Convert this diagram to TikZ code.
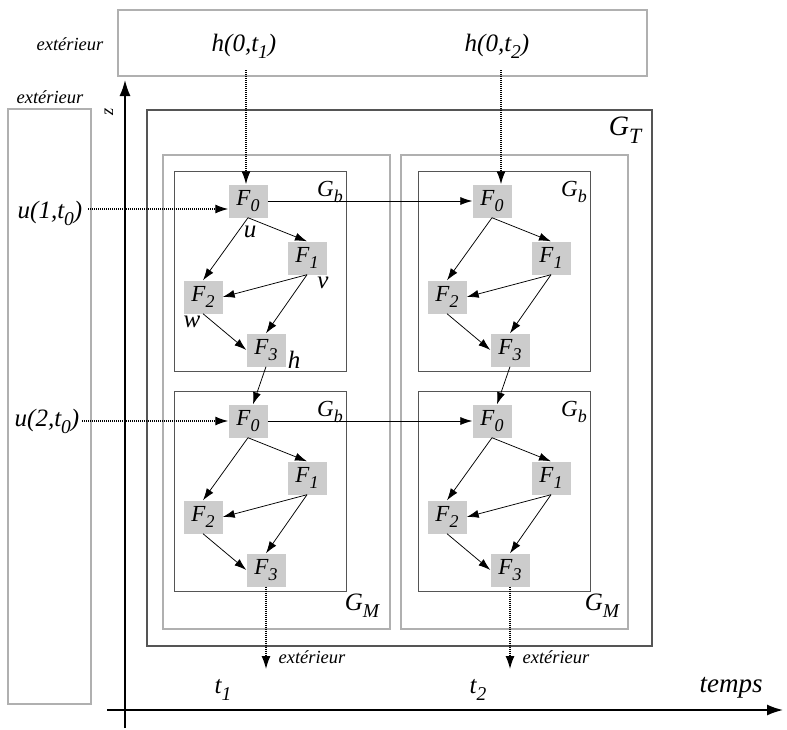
\documentclass[tikz,border=0pt]{standalone}
\usepackage{fontspec}
\setmainfont{Liberation Serif}
\usetikzlibrary{arrows.meta,calc}
\definecolor{boxfill}{HTML}{CCCCCC}
\definecolor{lightframe}{HTML}{B0B0B0}
\definecolor{darkframe}{HTML}{555555}
\newcommand{\sbs}[1]{\raisebox{-0.28em}{\scalebox{0.78}{#1}}}
\tikzset{
  fbox/.style={fill=boxfill, minimum width=39pt, minimum height=33pt, inner sep=0pt,
    font=\fontsize{23}{23}\selectfont\itshape},
  gblbl/.style={font=\fontsize{23}{23}\selectfont\itshape, inner sep=0pt},
  lbl/.style={font=\fontsize{25}{25}\selectfont\itshape, inner sep=0pt},
  biglbl/.style={font=\fontsize{28}{28}\selectfont\itshape, inner sep=0pt},
  smalllbl/.style={font=\fontsize{18.5}{18.5}\selectfont\itshape, inner sep=0pt},
  arr/.style={-{Latex[length=12pt,width=8pt]}, line width=0.75pt},
  dotarr/.style={dash pattern=on 1pt off 1pt, line width=1.3pt, -{Latex[length=13pt,width=9pt]}},
  lightbox/.style={draw=lightframe, line width=1.5pt},
  gtbox/.style={draw=darkframe, line width=1.5pt},
  gbbox/.style={draw=darkframe, line width=1pt},
  axis/.style={line width=1.6pt, -{Latex[length=16pt,width=11pt]}},
}
\newcommand{\fblock}[3]{%
  \node[fbox] (#1F0) at (248+#2,201+#3) {F\sbs{0}};
  \node[fbox] (#1F1) at (307+#2,258+#3) {F\sbs{1}};
  \node[fbox] (#1F2) at (203+#2,297+#3) {F\sbs{2}};
  \node[fbox] (#1F3) at (266+#2,350+#3) {F\sbs{3}};
  \draw[arr] (#1F0.south) -- (#1F1.north);
  \draw[arr] (#1F0.south) -- (#1F2.north);
  \draw[arr] (#1F1.south) -- (#1F2.east);
  \draw[arr] (#1F1.south) -- (#1F3.north);
  \draw[arr] (#1F2.south) -- (#1F3.west);
  \draw[gbbox] (174+#2,171+#3) rectangle (346+#2,371+#3);
  \node[gblbl] (#1Gb) at (330+#2,192+#3) {G\sbs{b}};
}
\begin{document}
\begin{tikzpicture}[x=1pt,y=-1pt]
\useasboundingbox (0,0) rectangle (787,729);
% outer boxes
\draw[lightbox] (118,10) rectangle (647,76);
\draw[lightbox] (8,109) rectangle (91,704);
\draw[gtbox] (147,110) rectangle (652,646);
\draw[lightbox] (163,155) rectangle (390,629);
\draw[lightbox] (401,155) rectangle (628,629);
\node[biglbl] (GT) at (625,130) {G\sbs{T}};
\node[lbl] (GM1) at (362,606) {G\sbs{M}};
\node[lbl] (GM2) at (602,606) {G\sbs{M}};
% axes
\coordinate (zb) at (125,728);
\coordinate (zt) at (125,80);
\coordinate (tl) at (107,710);
\coordinate (tr) at (783,710);
\draw[axis] (zb) -- (zt);
\draw[axis] (tl) -- (tr);
\node[smalllbl, rotate=90] (zlab) at (109,112) {z};
\node[lbl] (t1) at (223,690) {t\sbs{1}};
\node[lbl] (t2) at (478,690) {t\sbs{2}};
\node[lbl, font=\fontsize{27}{27}\selectfont\itshape] (temps) at (731,688) {temps};
% labels outside
\node[smalllbl] (ext1) at (70,44) {extérieur};
\node[smalllbl] (ext2) at (50,97) {extérieur};
\node[lbl] (h1) at (244,46) {h(0,t\sbs{1})};
\node[lbl] (h2) at (497,46) {h(0,t\sbs{2})};
\node[lbl] (u1) at (50,213) {u(1,t\sbs{0})};
\node[lbl] (u2) at (47,421) {u(2,t\sbs{0})};
% blocks
\fblock{A}{0}{0}
\fblock{B}{0}{220}
\fblock{C}{244}{0}
\fblock{D}{244}{220}
% edge labels of first block
\node[lbl] (lu) at (250,232) {u};
\node[lbl] (lv) at (323,283) {v};
\node[lbl] (lw) at (192,322) {w};
\node[lbl] (lh) at (294,360) {h};
% connections between blocks
\draw[arr] (AF0.east) -- (CF0.west);
\draw[arr] (BF0.east) -- (DF0.west);
\draw[arr] (AF3.south) -- ($(BF0.north)+(5,0)$);
\draw[arr] (CF3.south) -- ($(DF0.north)+(5,0)$);
% inputs
\coordinate (h1s) at (246,70);
\coordinate (h2s) at (501,70);
\draw[dotarr] (h1s) -- (h1s |- AF0.north);
\draw[dotarr] (h2s) -- (h2s |- CF0.north);
\coordinate (u1s) at (88,209);
\coordinate (u2s) at (82,421);
\draw[dotarr] (u1s) -- (u1s -| AF0.west);
\draw[dotarr] (u2s) -- (u2s -| BF0.west);
% outputs
\coordinate (o1) at (266,669);
\coordinate (o2) at (DF3.south |- o1);
\draw[dotarr] (BF3.south) -- (o1);
\draw[dotarr] (DF3.south) -- (o2);
\node[smalllbl] (ext3) at (312,657) {extérieur};
\node[smalllbl] (ext4) at (556,657) {extérieur};
\end{tikzpicture}
\end{document}
